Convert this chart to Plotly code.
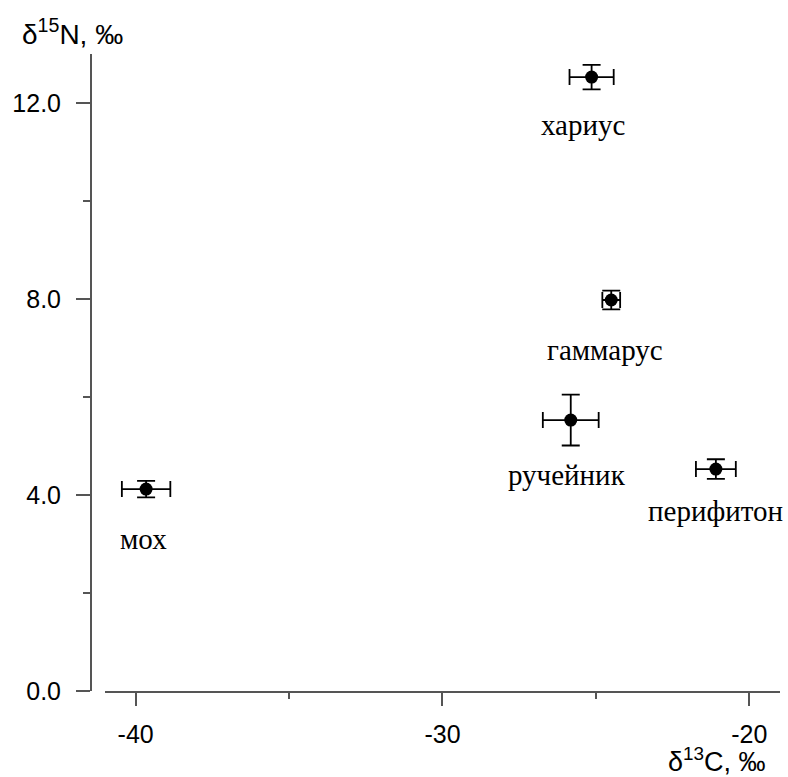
import plotly.graph_objects as go

# Stable isotope composition of the stream food web (mean ± error)
taxa = ["мох", "ручейник", "гаммарус", "хариус", "перифитон"]
d13c = [-39.66, -25.82, -24.50, -25.14, -21.09]
d13c_err = [0.79, 0.91, 0.29, 0.72, 0.65]
d15n = [4.12, 5.53, 7.98, 12.53, 4.53]
d15n_err = [0.17, 0.52, 0.19, 0.25, 0.20]

# label placement relative to each point (pixels)
label_dx = [-3, -4, -6, -9, 0]
label_dy = [-50, -55, -50, -48, -42]

x_ticks = [-40, -30, -20]
y_ticks = [0.0, 4.0, 8.0, 12.0]

axis_color = "#555555"
sans = "Liberation Sans, Arial, sans-serif"
tick_font = dict(family=sans, size=25, color="black")

fig = go.Figure()
fig.add_trace(go.Scatter(
    x=d13c, y=d15n, mode="markers",
    marker=dict(color="black", size=13),
    error_x=dict(type="data", array=d13c_err, color="black", thickness=1.8, width=8),
    error_y=dict(type="data", array=d15n_err, color="black", thickness=1.8, width=9),
    showlegend=False, hoverinfo="skip",
))

annotations = []
for name, x, y, dx, dy in zip(taxa, d13c, d15n, label_dx, label_dy):
    annotations.append(dict(
        x=x, y=y, xref="x", yref="y", text=name, showarrow=False,
        xshift=dx, yshift=dy, xanchor="center", yanchor="middle",
        font=dict(family="Liberation Serif, Times New Roman, serif", size=29, color="black"),
    ))

annotations.append(dict(
    x=-0.103, y=1.035, xref="paper", yref="paper", showarrow=False,
    text="δ<sup>15</sup>N, ‰", xanchor="left", yanchor="middle",
    font=dict(family=sans, size=28, color="black"),
))
annotations.append(dict(
    x=0.9826, y=-0.109, xref="paper", yref="paper", showarrow=False,
    text="δ<sup>13</sup>C, ‰", xanchor="right", yanchor="middle",
    font=dict(family=sans, size=27, color="black"),
))

fig.update_layout(
    width=788, height=777,
    margin=dict(l=91, r=8, t=54, b=86),
    paper_bgcolor="white", plot_bgcolor="white",
    xaxis=dict(
        domain=[0.0203, 1.0], range=[-41, -19],
        tickmode="array", tickvals=x_ticks, ticktext=[str(v) for v in x_ticks],
        ticks="outside", ticklen=13, tickwidth=2, tickcolor=axis_color,
        minor=dict(dtick=5, tick0=-40, ticks="outside", ticklen=6, tickwidth=2, tickcolor=axis_color),
        showline=True, linecolor=axis_color, linewidth=2,
        showgrid=False, zeroline=False, tickfont=tick_font, ticklabelstandoff=7,
    ),
    yaxis=dict(
        anchor="free", position=0.0, range=[0, 13],
        tickmode="array", tickvals=y_ticks, ticktext=[f"{v:.1f}" for v in y_ticks],
        ticks="outside", ticklen=14, tickwidth=2, tickcolor=axis_color,
        minor=dict(dtick=2, tick0=0, ticks="outside", ticklen=7, tickwidth=2, tickcolor=axis_color),
        showline=True, linecolor=axis_color, linewidth=2,
        showgrid=False, zeroline=False, tickfont=tick_font, ticklabelstandoff=10,
    ),
    annotations=annotations,
)

fig.write_html("out.html")
